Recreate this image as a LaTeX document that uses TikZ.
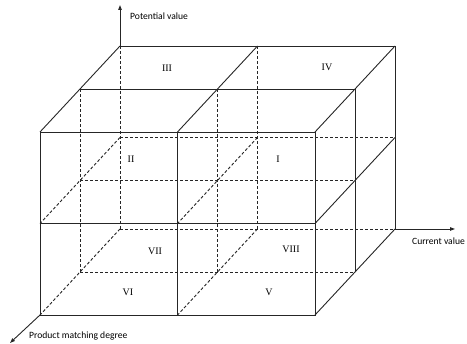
\documentclass[tikz,border=0pt]{standalone}
\usepackage{fontspec}
\setmainfont{Liberation Serif}
\newfontfamily\labelfont{Carlito}
\usetikzlibrary{arrows.meta}

\begin{document}
\begin{tikzpicture}[x=1pt, y=-1pt,
  edge/.style={draw=black!85, line width=0.9pt},
  hidden/.style={draw=black!85, line width=0.9pt, dash pattern=on 3pt off 2pt},
  axis/.style={draw=black!85, line width=0.9pt, -{Triangle[length=5pt, width=3.5pt]}},
  zone/.style={font=\fontsize{10}{12}\selectfont, inner sep=0pt},
  axislabel/.style={font=\labelfont\fontsize{9.6}{11}\selectfont, anchor=west, inner sep=0pt}
]
  \useasboundingbox (0,0) rectangle (467,344);
  \foreach \u in {0,1,2}
    \foreach \v in {0,1,2}
      \foreach \w in {0,1,2}
        \coordinate (p\u\v\w) at ({120+137.5*\u-40*\w}, {229-91.5*\v+43*\w});
  \coordinate (ptop) at (120,5);
  \coordinate (pright) at (455,229);
  \coordinate (pfront) at (10,343);

  \draw[hidden] (p000) -- (p020) (p100) -- (p120);
  \draw[hidden] (p001) -- (p021) (p101) -- (p121);
  \draw[hidden] (p010) -- (p210) (p000) -- (p200);
  \draw[hidden] (p011) -- (p211) (p001) -- (p201);
  \draw[hidden] (p010) -- (p012) (p110) -- (p112);
  \draw[hidden] (p000) -- (p002) (p100) -- (p102);

  \draw[edge] (p002) -- (p202) -- (p222) -- (p022) -- cycle;
  \draw[edge] (p102) -- (p122) (p012) -- (p212);
  \draw[edge] (p020) -- (p220) (p021) -- (p221);
  \draw[edge] (p020) -- (p022) (p120) -- (p122) (p220) -- (p222);
  \draw[edge] (p200) -- (p220) (p201) -- (p221);
  \draw[edge] (p200) -- (p202) (p210) -- (p212);

  \draw[axis] (p020) -- (ptop);
  \draw[axis] (p200) -- (pright);
  \draw[axis] (p002) -- (pfront);

  \node[axislabel] (lpot) at (130,16) {Potential value};
  \node[axislabel] (lcur) at (412,241) {Current value};
  \node[axislabel] (lprod) at (29,336) {Product matching degree};

  \node[zone] (z3) at (167,68) {III};
  \node[zone] (z4) at (327,67) {IV};
  \node[zone] (z2) at (131,159) {II};
  \node[zone] (z1) at (278,159) {I};
  \node[zone] (z7) at (155,251) {VII};
  \node[zone] (z8) at (291,249) {VIII};
  \node[zone] (z6) at (128,292) {VI};
  \node[zone] (z5) at (269,292) {V};
\end{tikzpicture}
\end{document}
